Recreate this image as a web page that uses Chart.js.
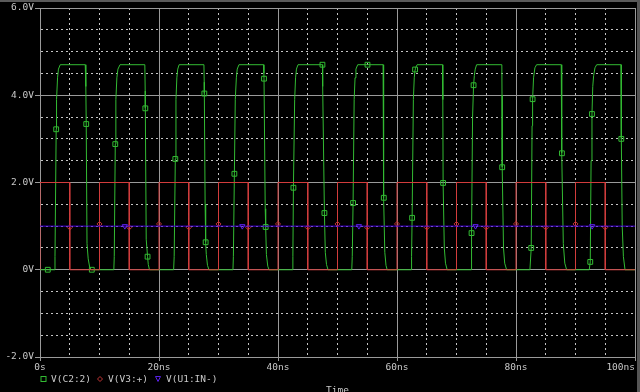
<!DOCTYPE html>
<html><head><meta charset="utf-8">
<script src="https://cdn.jsdelivr.net/npm/chart.js@4.4.0/dist/chart.umd.min.js"></script>
<style>
html,body{margin:0;padding:0;background:#000;}
#wrap{position:relative;width:640px;height:392px;overflow:hidden;background:#000;}
canvas{position:absolute;left:0;top:0;}
.t{position:absolute;font-family:"DejaVu Sans Mono",monospace;font-size:9.5px;line-height:12px;color:#c8c8c8;white-space:pre;}
</style></head><body>
<div id="wrap">
<canvas id="c" width="640" height="392"></canvas>
<svg style="position:absolute;left:0;top:0" width="640" height="392">
  <rect x="41" y="376.5" width="5" height="5" fill="none" stroke="#33bb33" stroke-width="1"/>
  <path d="M100 376.5 L102.5 379 L100 381.5 L97.5 379 Z" fill="none" stroke="#c03535" stroke-width="1"/>
  <path d="M155.5 376.5 L160.5 376.5 L158 381.5 Z" fill="none" stroke="#5a20e8" stroke-width="1"/>
</svg>
<div class="t" style="left:51px;top:373px">V(C2:2)</div>
<div class="t" style="left:108px;top:373px">V(V3:+)</div>
<div class="t" style="left:166px;top:373px">V(U1:IN-)</div>
<div class="t" style="left:326px;top:384px">Time</div>
<div style="position:absolute;left:0;top:0;width:640px;height:2px;background:#5a5a5a"></div>
<div style="position:absolute;left:637px;top:0;width:3px;height:392px;background:#555"></div>
</div>
<script>
// ---- data (ns, V) ----
const xTickValues = [0, 20, 40, 60, 80, 100];
const xTickLabels = ['0s', '20ns', '40ns', '60ns', '80ns', '100ns'];
const yTickValues = [-2, 0, 2, 4, 6];
const yTickLabels = ['-2.0V', '0V', '2.0V', '4.0V', '6.0V'];

// V(C2:2) trace
const greenT = [0,
  2.44,2.52,2.78,2.95,3.1,3.4,7.6,7.7,7.9,8.1,8.35,8.61,
  12.41,12.48,12.75,12.92,13.1,13.45,17.62,17.68,17.85,18.2,18.4,
  22.46,22.55,22.85,23.0,23.15,23.38,27.55,27.6,27.75,27.95,28.15,28.4,
  32.43,32.5,32.82,33.0,33.15,33.44,37.58,37.63,37.85,38.05,38.28,38.5,
  42.42,42.5,42.8,42.95,43.1,43.36,47.47,47.55,47.95,48.15,48.41,
  52.40,52.48,52.8,52.95,53.1,53.4,57.66,57.72,57.95,58.15,58.35,
  62.37,62.45,62.75,62.9,63.1,63.38,67.65,67.7,67.95,68.15,68.43,
  72.46,72.7,73.0,73.15,73.38,77.62,77.65,77.9,78.1,78.42,
  82.34,82.7,82.95,83.18,83.46,87.60,87.65,87.95,88.2,88.51,
  92.31,92.62,92.9,93.05,93.27,93.56,97.65,97.85,98.05,98.32,100];
const greenV = [0,
  0,0.3,3.9,4.4,4.6,4.7,4.7,4.2,0.6,0.25,0.06,0,
  0,0.3,3.9,4.4,4.6,4.7,4.7,4.1,0.7,0.12,0,
  0,0.3,3.9,4.4,4.6,4.7,4.7,4.3,1.5,0.35,0.1,0,
  0,0.3,3.9,4.4,4.6,4.7,4.7,4.5,1.4,0.35,0.08,0,
  0,0.3,3.9,4.4,4.6,4.7,4.7,4.2,0.4,0.12,0,
  0,0.3,3.9,4.4,4.6,4.7,4.7,3.8,0.4,0.1,0,
  0,0.3,3.9,4.4,4.62,4.7,4.7,3.9,0.5,0.15,0,
  0,3.5,4.45,4.6,4.7,4.7,4.0,0.5,0.15,0,
  0,3.3,4.4,4.63,4.7,4.7,4.0,0.6,0.15,0,
  0,2.5,4.2,4.45,4.63,4.7,4.7,1.0,0.3,0,0];
const greenMarkT = [1.31,2.72,7.77,8.71,12.65,17.70,18.08,22.74,27.62,27.84,32.67,37.65,37.93,
  42.59,47.47,47.8,52.62,55.04,57.78,62.54,63.04,67.75,72.53,72.87,77.68,82.56,82.79,87.72,92.48,92.77,97.70];
const greenMarkV = [0,3.22,3.34,0,2.88,3.70,0.30,2.54,4.04,0.63,2.20,4.38,0.98,
  1.88,4.7,1.30,1.53,4.7,1.65,1.19,4.59,1.99,0.84,4.23,2.35,0.50,3.91,2.67,0.18,3.57,3.00];

// V(V3:+) trace
const redT = [0,0,5,5,10,10,15,15,20,20,25,25,30,30,35,35,40,40,45,45,50,50,55,55,60,60,65,65,70,70,75,75,80,80,85,85,90,90,95,95,100];
const redV = [0,2,2,0,0,2,2,0,0,2,2,0,0,2,2,0,0,2,2,0,0,2,2,0,0,2,2,0,0,2,2,0,0,2,2,0,0,2,2,0,0];
const redMarkT = [5,10,15,20,25,30,35,40,45,50,55,60,65,70,75,80,85,90,95];
const redMarkV = [0.97,1.05,0.97,1.05,0.97,1.05,0.97,1.05,0.97,1.05,0.97,1.05,0.97,1.05,0.97,1.05,0.97,1.05,0.97];

// V(U1:IN-) trace
const blueT = [0, 100];
const blueV = [1, 1];
const blueMarkT = [14.26, 34.0, 53.6, 73.2, 92.8];
const blueMarkV = [1, 1, 1, 1, 1];

// ---- build ----
function build(ts, vs, mts, mvs) {
  const pts = ts.map((t, i) => ({x: t, y: vs[i], m: false}));
  mts.forEach((t, j) => {
    const v = mvs[j];
    let k = -1;
    for (let i = 0; i < pts.length - 1; i++) {
      const a = pts[i], b = pts[i + 1];
      if (t >= a.x - 1e-9 && t <= b.x + 1e-9 &&
          v >= Math.min(a.y, b.y) - 1e-9 && v <= Math.max(a.y, b.y) + 1e-9) { k = i + 1; break; }
    }
    if (k < 0) { k = pts.findIndex(p => p.x > t); if (k < 0) k = pts.length; }
    pts.splice(k, 0, {x: t, y: v, m: true});
  });
  return pts;
}

const MAJOR = '#9a9a9a', MINOR = '#c4c4c4', TXT = '#c8c8c8';
const GREEN = '#33bb33', RED = '#d23c3c', BLUE = '#4400dd';
const FONT = {family: 'DejaVu Sans Mono', size: 9.5};
const isMaj = (v, step) => Math.abs(v / step - Math.round(v / step)) < 1e-9;

new Chart(document.getElementById('c'), {
  type: 'line',
  data: {datasets: [
    {label: 'V(C2:2)', data: build(greenT, greenV, greenMarkT, greenMarkV), order: 3,
     borderColor: GREEN, borderWidth: 1, pointStyle: 'rect',
     pointRadius: c => (c.raw && c.raw.m) ? 3.4 : 0, pointBorderColor: GREEN,
     pointBackgroundColor: 'rgba(0,0,0,0)', pointBorderWidth: 1},
    {label: 'V(V3:+)', data: build(redT, redV, redMarkT, redMarkV), order: 2,
     borderColor: RED, borderWidth: 1, pointStyle: 'rectRot',
     pointRadius: c => (c.raw && c.raw.m) ? 2.5 : 0, pointBorderColor: '#c03535',
     pointBackgroundColor: 'rgba(0,0,0,0)', pointBorderWidth: 1},
    {label: 'V(U1:IN-)', data: build(blueT, blueV, blueMarkT, blueMarkV), order: 1,
     borderColor: BLUE, borderWidth: 1, pointStyle: 'triangle', pointRotation: 180,
     pointRadius: c => (c.raw && c.raw.m) ? 3 : 0, pointBorderColor: '#5a20e8',
     pointBackgroundColor: 'rgba(0,0,0,0)', pointBorderWidth: 1}
  ]},
  options: {
    responsive: false, animation: false, devicePixelRatio: 1, events: [],
    layout: {padding: {left: 0, right: 5, top: 8, bottom: 0}},
    plugins: {legend: {display: false}, tooltip: {enabled: false}},
    elements: {line: {tension: 0, fill: false}},
    scales: {
      x: {
        type: 'linear', min: 0, max: 100,
        afterFit: s => { s.height = 35; s.paddingLeft = 0; s.paddingRight = 0; },
        ticks: {stepSize: 5, autoSkip: false, maxRotation: 0, color: TXT, font: FONT, padding: 1,
          callback: v => { const i = xTickValues.indexOf(v); if (i < 0) return '';
            return xTickLabels[i] + (i === xTickValues.length - 1 ? '     ' : ''); }},
        grid: {color: c => (c.tick && !isMaj(c.tick.value, 20)) ? MINOR : MAJOR, lineWidth: 1,
          tickLength: 4, tickColor: c => (c.tick && isMaj(c.tick.value, 20)) ? MAJOR : 'rgba(0,0,0,0)'},
        border: {display: true, color: MAJOR, width: 1,
          dash: c => (c.tick && !isMaj(c.tick.value, 20)) ? [2, 3] : []}
      },
      y: {
        type: 'linear', min: -2, max: 6,
        afterFit: s => { s.width = 40; },
        ticks: {stepSize: 0.5, autoSkip: false, color: TXT, font: FONT, padding: 1,
          callback: v => { const i = yTickValues.indexOf(v); return i < 0 ? '' : yTickLabels[i]; }},
        grid: {color: c => (c.tick && !isMaj(c.tick.value, 2)) ? MINOR : MAJOR, lineWidth: 1,
          tickLength: 5, tickColor: c => (c.tick && isMaj(c.tick.value, 2)) ? MAJOR : 'rgba(0,0,0,0)'},
        border: {display: true, color: MAJOR, width: 1,
          dash: c => (c.tick && !isMaj(c.tick.value, 2)) ? [2, 3] : []}
      }
    }
  }
});
</script>
</body></html>
